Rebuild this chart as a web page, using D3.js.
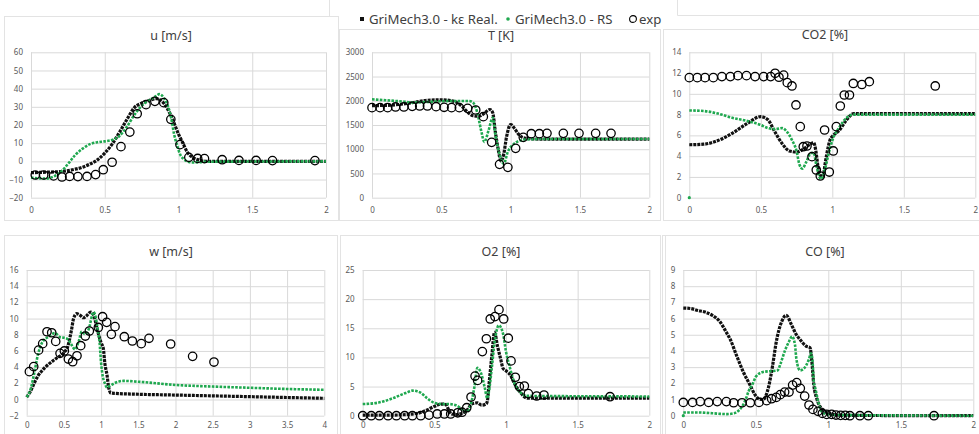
<!DOCTYPE html>
<html>
<head>
<meta charset="utf-8">
<script src="https://cdn.jsdelivr.net/npm/d3@7"></script>
<style>
  body { margin: 0; background: #fff; }
  svg { display: block; font-family: "Noto Sans", sans-serif; }
</style>
</head>
<body>
<svg id="chart" width="979" height="434"></svg>
<script>
// ---- data ----
const legendLabels = ["GriMech3.0 - kε Real.", "GriMech3.0 - RS", "exp"];
const titles = ["u [m/s]", "T [K]", "CO2 [%]", "w [m/s]", "O2 [%]", "CO [%]"];

const xTicks2 = [0, 0.5, 1, 1.5, 2];
const xTicks4 = [0, 0.5, 1, 1.5, 2, 2.5, 3, 3.5, 4];
const uYTicks = [-20, -10, 0, 10, 20, 30, 40, 50, 60];
const tYTicks = [0, 500, 1000, 1500, 2000, 2500, 3000];
const co2YTicks = [0, 2, 4, 6, 8, 10, 12, 14];
const wYTicks = [-2, 0, 2, 4, 6, 8, 10, 12, 14, 16];
const o2YTicks = [0, 5, 10, 15, 20, 25];
const coYTicks = [0, 1, 2, 3, 4, 5, 6, 7, 8, 9];

// u [m/s]
const uKe = [[0,-6.2],[0.1,-6],[0.2,-5.6],[0.3,-4.3],[0.35,-3.2],[0.4,-1.5],[0.45,0.8],[0.5,4.5],[0.55,9.5],[0.6,16],[0.65,23],[0.7,29.5],[0.75,32],[0.8,33.5],[0.85,34.5],[0.9,32],[0.95,25],[1.0,15],[1.03,10],[1.06,5],[1.1,2],[1.15,0.5],[1.2,0],[2,0]];
const uRs = [[0,-9],[0.05,-9.3],[0.1,-9.5],[0.15,-8.5],[0.2,-6],[0.25,-1.5],[0.3,3.5],[0.35,7],[0.4,9.5],[0.45,10.5],[0.5,11],[0.55,11.8],[0.6,14],[0.65,19],[0.7,25.5],[0.75,30.5],[0.8,33.5],[0.85,36],[0.87,37],[0.9,35],[0.93,30],[0.95,24],[0.97,15],[0.99,9],[1.01,4],[1.04,1],[1.07,-0.3],[1.1,-0.6],[1.2,-0.2],[2,0]];
const uExp = [[0.029,-7.5],[0.086,-7.5],[0.153,-8],[0.21,-8.6],[0.262,-8.3],[0.318,-8.4],[0.38,-8.3],[0.438,-7.3],[0.49,-4.6],[0.55,-0.5],[0.61,8.1],[0.67,16.1],[0.72,26.2],[0.78,31.2],[0.84,33],[0.9,32.3],[0.948,23.1],[1.01,9.2],[1.07,2.2],[1.13,1.6],[1.176,1.5],[1.296,0.9],[1.41,0.5],[1.526,0.5],[1.637,0.4],[1.925,0.4]];

// T [K]
const tKe = [[0,1900],[0.1,1905],[0.2,1925],[0.3,1965],[0.4,2010],[0.5,2020],[0.6,1980],[0.65,1880],[0.7,1740],[0.73,1690],[0.77,1680],[0.8,1720],[0.85,1820],[0.87,1760],[0.89,1350],[0.91,1000],[0.93,760],[0.95,900],[0.97,1250],[1.0,1510],[1.03,1420],[1.06,1300],[1.1,1230],[1.2,1210],[2,1210]];
const tRs = [[0,2030],[0.1,2010],[0.2,1990],[0.3,1965],[0.4,1975],[0.5,1990],[0.6,1995],[0.7,1995],[0.73,1960],[0.76,1750],[0.79,1350],[0.81,1150],[0.84,1380],[0.87,1650],[0.89,1300],[0.92,900],[0.95,700],[0.98,950],[1.02,1100],[1.06,1170],[1.1,1200],[1.2,1210],[2,1210]];
const tExp = [[0,1858],[0.058,1858],[0.113,1858],[0.17,1872],[0.23,1872],[0.29,1885],[0.344,1892],[0.4,1892],[0.462,1878],[0.52,1865],[0.574,1858],[0.63,1858],[0.69,1844],[0.748,1810],[0.803,1672],[0.863,1142],[0.92,688],[0.98,626],[1.036,1018],[1.091,1245],[1.149,1321],[1.207,1321],[1.262,1328],[1.38,1328],[1.493,1328],[1.613,1328],[1.724,1328]];

// CO2 [%]
const co2Ke = [[0,5.1],[0.1,5.15],[0.2,5.5],[0.3,6.2],[0.4,7.1],[0.5,7.8],[0.55,7.5],[0.6,6.3],[0.65,5.2],[0.7,4.5],[0.75,4.4],[0.8,4.7],[0.85,5.2],[0.87,5.3],[0.885,4.5],[0.9,3.0],[0.92,2.1],[0.935,2.0],[0.95,3.3],[0.97,4.8],[0.985,5.6],[1.0,5.9],[1.05,6.5],[1.1,7.5],[1.15,8.1],[2,8.1]];
const co2Rs = [[0,8.4],[0.1,8.35],[0.2,8.1],[0.3,7.7],[0.4,7.4],[0.5,7.0],[0.55,6.7],[0.6,6.6],[0.65,6.7],[0.68,6.4],[0.72,5.5],[0.75,4.5],[0.77,3.2],[0.79,2.8],[0.82,3.5],[0.85,4.3],[0.87,4.3],[0.89,3.0],[0.92,1.8],[0.95,2.8],[0.97,4.0],[1.0,5.5],[1.05,6.8],[1.1,7.7],[1.15,8.0],[2,8.0]];
const co2Exp = [[0,11.56],[0.056,11.56],[0.11,11.56],[0.168,11.56],[0.228,11.66],[0.287,11.66],[0.34,11.75],[0.4,11.75],[0.46,11.66],[0.52,11.66],[0.569,11.66],[0.6,11.98],[0.627,11.6],[0.66,11.8],[0.685,11.08],[0.718,10.76],[0.746,8.93],[0.776,6.84],[0.797,4.91],[0.823,4.98],[0.858,3.95],[0.888,2.67],[0.916,2.09],[0.946,6.52],[0.979,2.47],[1.007,4.5],[1.028,6.84],[1.056,8.83],[1.084,9.89],[1.12,9.89],[1.147,11.0],[1.207,10.9],[1.259,11.17],[1.72,10.76]];
const co2RsStray = [[0,0]];

// w [m/s]
const wKe = [[0,0.3],[0.05,1.0],[0.1,2.0],[0.15,2.9],[0.2,3.5],[0.3,4.4],[0.4,5.1],[0.5,5.8],[0.55,6.5],[0.6,8.5],[0.63,10.0],[0.67,10.6],[0.72,10.4],[0.76,10.1],[0.8,10.3],[0.86,10.8],[0.9,10.4],[0.95,8.6],[1.0,7.0],[1.03,6.3],[1.05,4.5],[1.08,3.0],[1.1,1.6],[1.13,0.8],[1.2,0.75],[1.5,0.65],[2,0.55],[2.5,0.45],[3,0.35],[3.5,0.25],[4,0.15]];
const wRs = [[0,0.3],[0.05,1.2],[0.1,3.2],[0.15,5.5],[0.2,6.9],[0.3,7.8],[0.38,8.2],[0.45,7.7],[0.52,7.6],[0.56,7.4],[0.6,6.8],[0.65,6.2],[0.7,7.2],[0.74,8.4],[0.78,8.1],[0.83,8.6],[0.9,10.8],[0.95,9.0],[0.98,7.0],[1.0,4.5],[1.02,3.0],[1.05,2.0],[1.08,1.5],[1.12,1.7],[1.2,2.1],[1.3,2.3],[1.5,2.2],[2,1.8],[2.5,1.6],[3,1.45],[3.5,1.3],[4,1.2]];
const wExp = [[0.036,3.44],[0.094,4.06],[0.16,6.1],[0.215,6.9],[0.273,8.37],[0.336,8.25],[0.39,7.18],[0.448,5.7],[0.506,6.0],[0.56,5.0],[0.618,4.67],[0.676,5.4],[0.726,6.65],[0.788,7.84],[0.842,8.46],[0.963,8.9],[1.02,10.23],[1.075,9.53],[1.138,8.05],[1.187,9.0],[1.312,7.76],[1.42,7.23],[1.54,6.9],[1.644,7.56],[1.935,6.86],[2.23,5.33],[2.517,4.63]];

// O2 [%]
const o2Ke = [[0,0.1],[0.2,0.1],[0.3,0.2],[0.4,0.5],[0.45,1.0],[0.5,1.6],[0.55,2.0],[0.58,1.9],[0.6,1.0],[0.62,0.3],[0.65,0.2],[0.7,0.5],[0.73,1.0],[0.76,2.0],[0.8,2.2],[0.83,1.8],[0.86,2.0],[0.87,2.5],[0.88,5],[0.9,10],[0.92,14.3],[0.94,12],[0.96,10],[0.98,8.1],[1.0,7.7],[1.03,7.0],[1.06,5.5],[1.1,4.0],[1.15,3.0],[2,3.0]];
const o2Rs = [[0,2.0],[0.1,2.2],[0.2,2.9],[0.3,3.9],[0.35,4.3],[0.4,4.0],[0.45,3.0],[0.5,2.2],[0.55,2.0],[0.6,2.0],[0.65,1.8],[0.7,1.0],[0.73,0.7],[0.76,2.5],[0.78,5],[0.8,8.2],[0.83,7.0],[0.85,5.0],[0.87,3.0],[0.88,4.0],[0.9,8.0],[0.92,12.5],[0.95,15.5],[0.98,14],[1.0,11],[1.03,8],[1.06,5.5],[1.1,4.0],[1.15,3.4],[2,3.3]];
const o2Exp = [[0,0],[0.06,0],[0.116,0],[0.177,0],[0.235,0],[0.293,0],[0.347,0],[0.405,0],[0.463,0.1],[0.52,0.3],[0.57,0.3],[0.614,0.3],[0.663,0.5],[0.693,0.6],[0.726,1.37],[0.756,3.2],[0.784,6.8],[0.802,6.06],[0.835,11.0],[0.863,13.2],[0.89,16.6],[0.923,17.0],[0.951,18.2],[0.984,16.6],[1.016,13.3],[1.035,9.4],[1.065,6.6],[1.093,5.0],[1.128,5.1],[1.156,3.78],[1.214,3.38],[1.265,3.55],[1.726,3.26]];

// CO [%]
const coKe = [[0,6.65],[0.05,6.62],[0.1,6.5],[0.15,6.4],[0.2,6.2],[0.253,5.8],[0.3,5.1],[0.322,4.75],[0.368,3.7],[0.414,2.7],[0.46,1.9],[0.494,1.3],[0.52,1.05],[0.55,1.0],[0.586,1.7],[0.616,3.1],[0.64,4.5],[0.678,5.8],[0.71,6.2],[0.747,5.6],[0.78,5.0],[0.805,4.7],[0.846,4.3],[0.874,4.2],[0.885,3.5],[0.9,1.9],[0.92,1.07],[0.943,0.56],[0.966,0.35],[1.0,0.15],[1.05,0.05],[1.1,0.02],[2,0]];
const coRs = [[0,0.2],[0.1,0.2],[0.2,0.15],[0.3,0.1],[0.35,0.15],[0.38,0.3],[0.4,0.5],[0.43,1.0],[0.45,1.5],[0.48,2.0],[0.5,2.4],[0.55,2.7],[0.6,2.75],[0.65,2.8],[0.67,3.2],[0.7,4.0],[0.73,4.6],[0.75,4.9],[0.77,4.4],[0.78,3.5],[0.805,2.8],[0.83,2.9],[0.867,3.5],[0.88,3.85],[0.89,3.5],[0.9,2.1],[0.91,1.7],[0.93,0.9],[0.95,0.3],[1.0,0.05],[2,0]];
const coExp = [[0,0.82],[0.064,0.82],[0.117,0.87],[0.175,0.82],[0.234,0.87],[0.297,0.87],[0.347,0.8],[0.405,0.8],[0.462,0.8],[0.522,0.82],[0.575,0.93],[0.609,1.05],[0.641,1.13],[0.669,1.3],[0.699,1.46],[0.729,1.46],[0.754,1.89],[0.782,2.04],[0.807,1.69],[0.837,1.21],[0.867,0.66],[0.894,0.39],[0.929,0.27],[0.959,0.14],[0.989,0.08],[1.023,0.08],[1.053,0.04],[1.085,0.02],[1.117,0.02],[1.149,0],[1.218,0],[1.276,0],[1.729,0]];
const coRsStray = [[0,0]];

// ---- layout ----
const black = "#111";
const green = "#1fa84f";
const gridColor = "#d9d9d9";
const borderColor = "#e3e3e3";
const numFmt = d3.format("");

const svg = d3.select("#chart");

// frame pieces of the chart objects
const frames = [
  [4, 16, 334, 204], [339, 29, 321, 191], [663, 29, 316, 191],
  [4, 235, 333, 199], [340, 235, 320, 199], [662, 235, 317, 199], [665, 235, 314, 199]
];
svg.selectAll(".frame").data(frames).enter().append("rect")
  .attr("class", "frame")
  .attr("x", d => d[0] + 0.5).attr("y", d => d[1] + 0.5)
  .attr("width", d => d[2]).attr("height", d => d[3])
  .attr("fill", "none").attr("stroke", borderColor);
svg.append("path")
  .attr("d", "M329.5,0V16.5 M677.5,0V15.5H979")
  .attr("fill", "none").attr("stroke", borderColor);

const panels = [
  { title: titles[0], ke: uKe, rs: uRs, exp: uExp, xTicks: xTicks2, yTicks: uYTicks,
    plot: [31, 52.3, 326, 197.7], titleX: 171, titleY: 39.5, labelY: 215 },
  { title: titles[1], ke: tKe, rs: tRs, exp: tExp, xTicks: xTicks2, yTicks: tYTicks,
    plot: [372, 52.3, 649.3, 197.7], titleX: 501, titleY: 39.5, labelY: 215 },
  { title: titles[2], ke: co2Ke, rs: co2Rs, exp: co2Exp, stray: co2RsStray, xTicks: xTicks2, yTicks: co2YTicks,
    plot: [689.3, 52.3, 975.3, 197.7], titleX: 825, titleY: 38.5, labelY: 215 },
  { title: titles[3], ke: wKe, rs: wRs, exp: wExp, xTicks: xTicks4, yTicks: wYTicks,
    plot: [26.7, 270, 324.3, 415.7], titleX: 171, titleY: 256, labelY: 430 },
  { title: titles[4], ke: o2Ke, rs: o2Rs, exp: o2Exp, xTicks: xTicks2, yTicks: o2YTicks,
    plot: [362.7, 270, 649.3, 415.7], titleX: 501, titleY: 256, labelY: 430 },
  { title: titles[5], ke: coKe, rs: coRs, exp: coExp, stray: coRsStray, xTicks: xTicks2, yTicks: coYTicks,
    plot: [683.3, 270, 973.3, 415.7], titleX: 825, titleY: 256, labelY: 430 }
];

function drawPanel(p) {
  const [x0, y0, x1, y1] = p.plot;
  const x = d3.scaleLinear().domain(d3.extent(p.xTicks)).range([x0, x1]);
  const y = d3.scaleLinear().domain(d3.extent(p.yTicks)).range([y1, y0]);
  const g = svg.append("g");

  // gridlines
  g.append("g")
    .attr("transform", `translate(${x0},0)`)
    .call(d3.axisLeft(y).tickValues(p.yTicks).tickSize(-(x1 - x0)).tickFormat(""))
    .call(a => a.select(".domain").remove())
    .selectAll("line").attr("stroke", gridColor);
  g.append("g")
    .attr("transform", `translate(0,${y1})`)
    .call(d3.axisBottom(x).tickValues(p.xTicks).tickSize(-(y1 - y0)).tickFormat(""))
    .call(a => a.select(".domain").remove())
    .selectAll("line").attr("stroke", gridColor);

  // tick labels
  const yAxis = g.append("g")
    .attr("transform", `translate(${x0 - 8},0)`)
    .call(d3.axisLeft(y).tickValues(p.yTicks).tickSize(0).tickPadding(0).tickFormat(numFmt));
  const xAxis = g.append("g")
    .attr("transform", `translate(0,${p.labelY - 8})`)
    .call(d3.axisBottom(x).tickValues(p.xTicks).tickSize(0).tickPadding(0).tickFormat(numFmt));
  [yAxis, xAxis].forEach(a => {
    a.select(".domain").remove();
    a.attr("font-family", null).attr("font-size", null);
    a.selectAll("text").attr("fill", "#595959").style("font-size", "8px");
  });

  // title
  g.append("text")
    .attr("x", p.titleX).attr("y", p.titleY)
    .attr("text-anchor", "middle")
    .attr("fill", "#404040")
    .style("font-size", "12.5px")
    .text(p.title);

  const line = d3.line()
    .x(d => x(d[0]))
    .y(d => y(d[1]))
    .curve(d3.curveMonotoneX);

  g.append("path").datum(p.ke)
    .attr("d", line)
    .attr("fill", "none")
    .attr("stroke", black)
    .attr("stroke-width", 3.2)
    .attr("stroke-dasharray", "3,1");

  g.append("path").datum(p.rs)
    .attr("d", line)
    .attr("fill", "none")
    .attr("stroke", green)
    .attr("stroke-width", 2.6)
    .attr("stroke-dasharray", "2.6,1.3");

  if (p.stray) {
    g.selectAll(".stray").data(p.stray).enter().append("circle")
      .attr("cx", d => x(d[0])).attr("cy", d => y(d[1]))
      .attr("r", 1.6).attr("fill", green);
  }

  g.selectAll(".exp").data(p.exp).enter().append("circle")
    .attr("class", "exp")
    .attr("cx", d => x(d[0])).attr("cy", d => y(d[1]))
    .attr("r", 4.2)
    .attr("fill", "none")
    .attr("stroke", "#000")
    .attr("stroke-width", 1.3);
}

panels.forEach(drawPanel);

// legend
const legend = svg.append("g").attr("transform", "translate(0,19)");
const legendX = [362, 508, 633];
legend.append("rect").attr("x", legendX[0] - 2).attr("y", -2).attr("width", 4).attr("height", 4).attr("fill", black);
legend.append("circle").attr("cx", legendX[1]).attr("cy", 0).attr("r", 1.8).attr("fill", green);
legend.append("circle").attr("cx", legendX[2]).attr("cy", 0).attr("r", 3.4)
  .attr("fill", "none").attr("stroke", "#000").attr("stroke-width", 1.1);
legend.selectAll(".lt").data(legendLabels).enter().append("text")
  .attr("x", (d, i) => legendX[i] + (i === 2 ? 6 : 7))
  .attr("y", 4.5)
  .attr("fill", "#404040")
  .style("font-size", "13.2px")
  .text(d => d);
</script>
</body>
</html>
